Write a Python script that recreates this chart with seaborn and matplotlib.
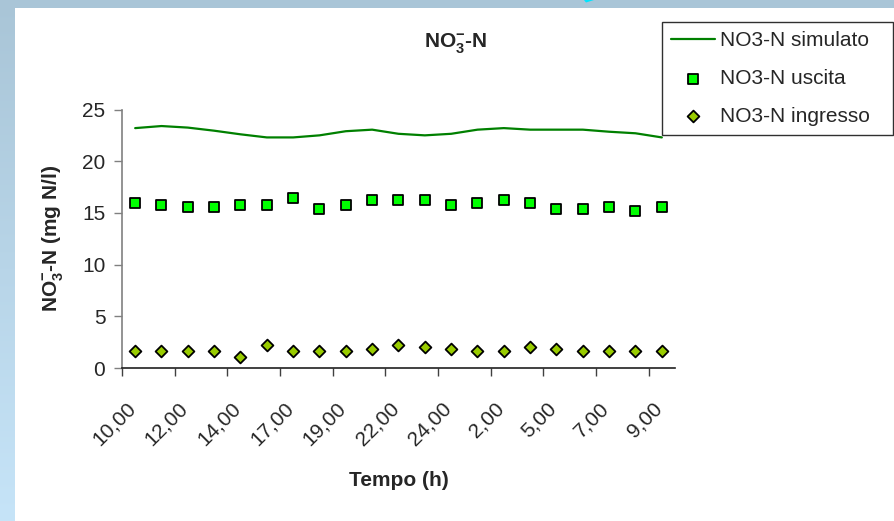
import numpy as np
import pandas as pd
import matplotlib
matplotlib.use("Agg")
import matplotlib.pyplot as plt
from matplotlib.patches import Polygon
import seaborn as sns

# ---------------- data ----------------
categories = ["10,00", "11,00", "12,00", "13,00", "14,00", "16,00", "17,00",
              "18,00", "19,00", "21,00", "22,00", "23,00", "24,00", "1,00",
              "2,00", "4,00", "5,00", "6,00", "7,00", "8,00", "9,00"]
simulato = [23.2, 23.4, 23.25, 22.95, 22.6, 22.3, 22.3, 22.5, 22.9, 23.05, 22.65,
            22.5, 22.65, 23.05, 23.2, 23.05, 23.05, 23.05, 22.85, 22.7, 22.3]
uscita = [16.0, 15.8, 15.6, 15.6, 15.8, 15.8, 16.4, 15.4, 15.8, 16.2, 16.2,
          16.2, 15.8, 16.0, 16.2, 16.0, 15.4, 15.4, 15.6, 15.2, 15.6]
ingresso = [1.6, 1.6, 1.6, 1.6, 1.1, 2.2, 1.6, 1.6, 1.6, 1.8, 2.2,
            2.0, 1.8, 1.6, 1.6, 2.0, 1.8, 1.6, 1.6, 1.6, 1.6]
y_ticks = [0, 5, 10, 15, 20, 25]
label_every = 2

df = pd.DataFrame({"Tempo": categories, "simulato": simulato,
                   "uscita": uscita, "ingresso": ingresso})
df["pos"] = np.arange(len(df))

# ---------------- style ----------------
sns.set_style("white")
plt.rcParams["font.family"] = ["Liberation Sans", "DejaVu Sans"]
plt.rcParams["mathtext.fontset"] = "custom"
plt.rcParams["mathtext.rm"] = "Liberation Sans"
plt.rcParams["mathtext.bf"] = "Liberation Sans:bold"
FS = 15

W, H = 895, 521
fig = plt.figure(figsize=(W / 100, H / 100), dpi=100)
fig.patch.set_facecolor("white")

# slide background (blue frame on top/left)
bg = fig.add_axes([0, 0, 1, 1], zorder=-10)
img = np.ones((H, W, 3))
top_c = np.array([0xa9, 0xc5, 0xd7]) / 255
bot_c = np.array([0xc6, 0xe4, 0xf8]) / 255
img[:8, :, :] = top_c
t = np.linspace(0, 1, H)[:, None]
img[:, :15, :] = (top_c * (1 - t) + bot_c * t)[:, None, :]
bg.imshow(img, aspect="auto", extent=[0, W, H, 0], interpolation="bilinear")
bg.add_patch(Polygon([[584, 0], [594, 0], [586, 2.5]], closed=True,
                     color="#00e5ff", linewidth=0))
bg.set_xlim(0, W)
bg.set_ylim(H, 0)
bg.axis("off")

# ---------------- main axes ----------------
x0, x1 = 122, 675
y0, y1 = 368, 109.5
ax = fig.add_axes([x0 / W, 1 - y0 / H, (x1 - x0) / W, (y0 - y1) / H])
ax.set_facecolor("none")

sns.lineplot(data=df, x="pos", y="simulato", ax=ax, color="#008000",
             linewidth=1.6, label="NO3-N simulato")
sns.scatterplot(data=df, x="pos", y="uscita", ax=ax, marker="s", s=62,
                color="#00ff00", edgecolor="black", linewidth=1.3,
                label="NO3-N uscita", zorder=3)
sns.scatterplot(data=df, x="pos", y="ingresso", ax=ax, marker="D", s=36,
                color="#99cc00", edgecolor="black", linewidth=1.3,
                label="NO3-N ingresso", zorder=3)

n = len(categories)
ax.set_xlim(-0.5, n - 0.5)
ax.set_ylim(0, 25)
ax.set_yticks(y_ticks)
ax.set_yticklabels([str(v) for v in y_ticks], fontsize=FS)

# tick marks between categories, labels under every second category
major = np.arange(-0.5, n - 1, label_every)
ax.set_xticks(major)
ax.set_xticklabels([])
minor = np.arange(0, n, label_every)
cat_px = (x1 - x0) / n
label_shift = 9.5 / cat_px  # rotated label end sits slightly left of centre
ax.set_xticks(minor - label_shift, [categories[i] for i in minor], minor=True)
for lab in ax.get_xticklabels(minor=True):
    lab.set_rotation(45)
    lab.set_ha("right")
    lab.set_va("top")
    lab.set_rotation_mode("anchor")
    lab.set_fontsize(FS)

ax.tick_params(axis="x", which="major", direction="out", length=6,
               width=1, color="#404040", bottom=True)
ax.tick_params(axis="x", which="minor", length=0, pad=22, bottom=True)
ax.tick_params(axis="y", direction="out", length=6, width=1,
               color="#808080", pad=6, left=True)

for s in ["top", "right"]:
    ax.spines[s].set_visible(False)
ax.spines["left"].set_color("#808080")
ax.spines["left"].set_linewidth(1.2)
ax.spines["bottom"].set_color("#202020")
ax.spines["bottom"].set_linewidth(1.2)
ax.grid(False)

ax.set_xlabel("Tempo (h)", fontsize=FS, fontweight="bold")
ax.xaxis.set_label_coords(0.5, (y0 - 480) / (y0 - y1))
ax.xaxis.label.set_va("center")
ax.set_ylabel(r"NO$_{\mathbf{3}}^{\mathbf{-}}$-N (mg N/l)", fontsize=FS,
              fontweight="bold")
ax.yaxis.set_label_coords((53 - x0) / (x1 - x0), 0.5)
ax.yaxis.label.set_va("center")

fig.text(456 / W, 1 - 44 / H, r"NO$_{\mathbf{3}}^{\mathbf{-}}$-N", fontsize=FS,
         fontweight="bold", ha="center", va="center")

# legend
handles, labels = ax.get_legend_handles_labels()
if ax.legend_:
    ax.legend_.remove()
leg = fig.legend(handles, labels, loc="upper left",
                 bbox_to_anchor=(662 / W, 1 - 134 / H, (893 - 662) / W, 112 / H),
                 mode="expand", frameon=True, fancybox=False, shadow=False,
                 fontsize=FS, handlelength=2.1, handletextpad=0.25,
                 labelspacing=0.9, borderpad=0.45, borderaxespad=0,
                 markerscale=1.0)
leg.get_frame().set_edgecolor("#303030")
leg.get_frame().set_linewidth(1.0)
leg.get_frame().set_alpha(1)

fig.savefig("out.png", dpi=100)
